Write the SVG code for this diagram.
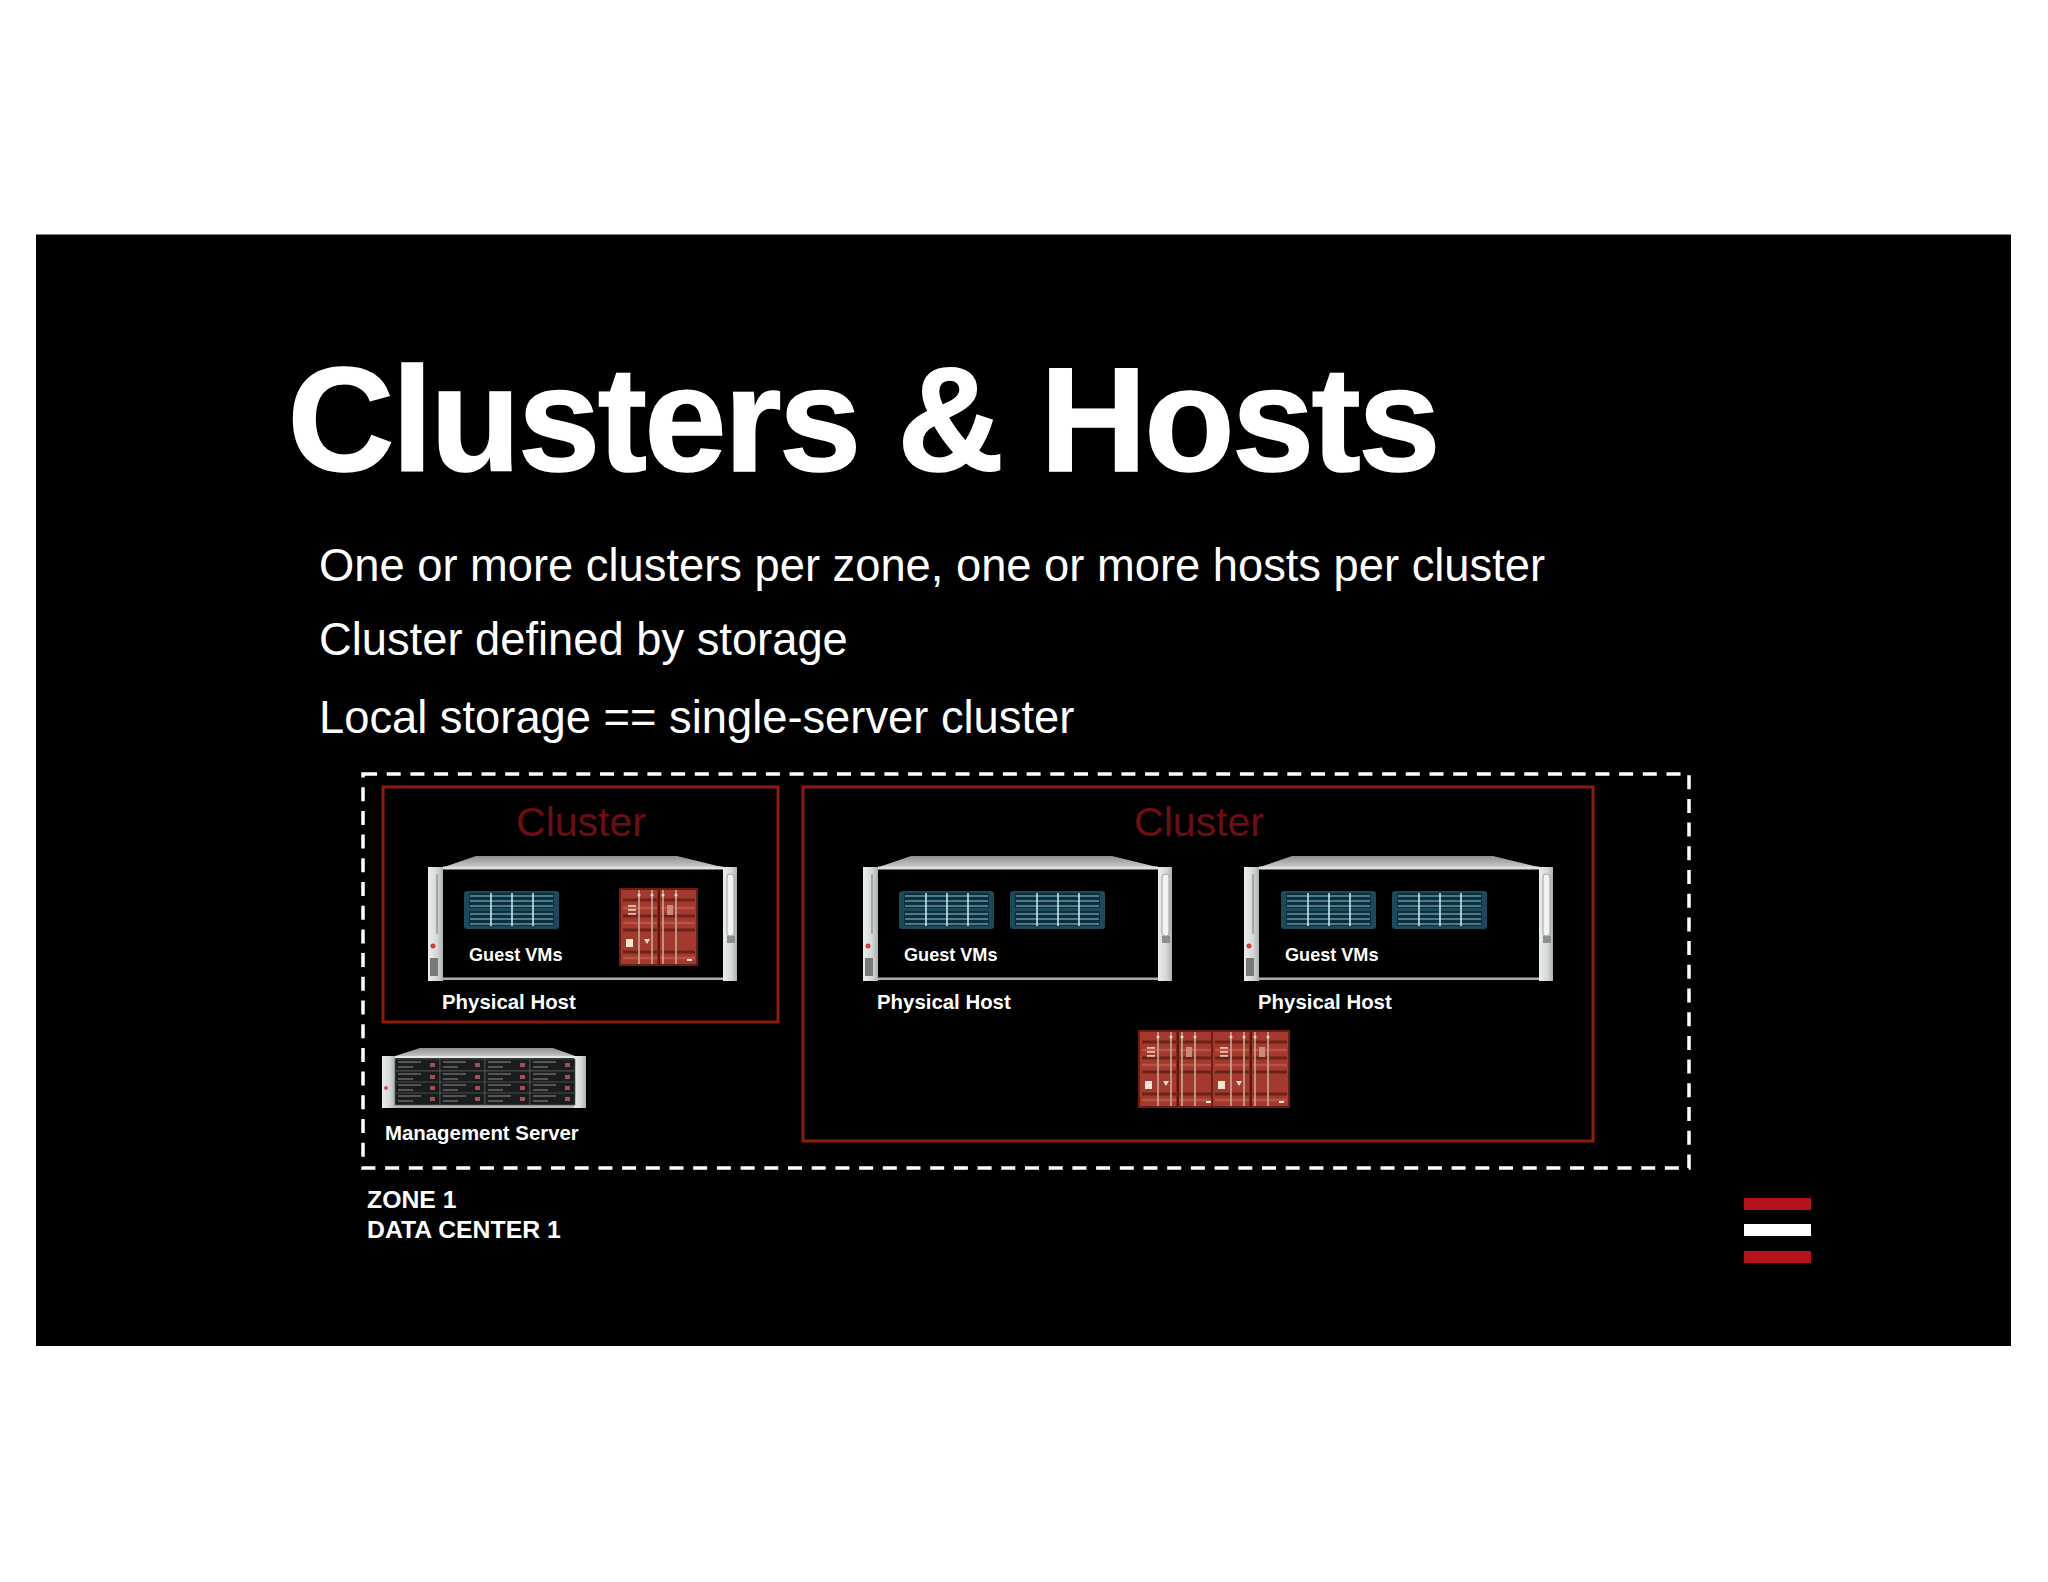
<svg xmlns="http://www.w3.org/2000/svg" xmlns:xlink="http://www.w3.org/1999/xlink" width="2048" height="1582" viewBox="0 0 2048 1582">
<style>
text{font-family:"Liberation Sans",Arial,sans-serif;fill:#fff}
.b{font-weight:700}
.body{font-size:45.300px}
.cl{font-size:41px;fill:#6f0d12;text-anchor:middle}
.gv{font-size:18.100px;font-weight:700}
.ph{font-size:20.400px;font-weight:700}
.zn{font-size:24.800px;font-weight:700}
.clb{fill:none;stroke:#8f1a0e;stroke-width:3}
</style>
<defs>
<linearGradient id="top" x1="0" x2="0" y1="0" y2="1"><stop offset="0" stop-color="#8e9090"/><stop offset="1" stop-color="#c9cbcb"/></linearGradient>
<linearGradient id="hdl" x1="0" x2="1" y1="0" y2="0"><stop offset="0" stop-color="#eceeee"/><stop offset=".6" stop-color="#d5d8d8"/><stop offset="1" stop-color="#aeb1b1"/></linearGradient>
<filter id="soft" x="-5%" y="-5%" width="110%" height="110%"><feGaussianBlur stdDeviation=".6"/></filter>
<symbol id="host" width="310" height="126" viewBox="0 0 310 126" overflow="visible">
<g filter="url(#soft)">
<polygon points="16,11 48,0 249,0 294,11" fill="url(#top)"/>
<rect x="15" y="10.500" width="280" height="3" fill="#dfe1e1"/>
<rect x="15" y="121.500" width="280" height="2.500" fill="#a9adab"/>
<rect x="0" y="11" width="15" height="114" fill="url(#hdl)"/>
<rect x="295" y="11" width="14" height="114" fill="url(#hdl)"/>
<rect x="8" y="18" width="2" height="60" fill="#a2a6a6"/>
<rect x="299" y="18" width="7" height="62" rx="3" fill="#f1f2f2" stroke="#9ea2a2"/>
<rect x="299" y="80" width="8" height="7" fill="#8b8f8f"/>
<circle cx="5" cy="90" r="2.500" fill="#d63b35"/>
<rect x="2" y="102" width="8" height="18" fill="#77797a"/>
</g>
</symbol>
<symbol id="blade" width="95" height="39" viewBox="0 0 95 39" overflow="visible">
<g filter="url(#soft)">
<rect x="0" y="1" width="95" height="38" rx="3" fill="#1b4a5c"/>
<rect x="5" y="3" width="85" height="15" fill="#0f2f3d"/>
<rect x="5" y="21" width="85" height="15" fill="#0f2f3d"/>
<path d="M6 6H89M6 11H89M6 16H89M6 24H89M6 29H89M6 34H89" stroke="#8fc6d2" stroke-width="1.100"/>
<path d="M27 3V36M48 3V36M69 3V36" stroke="#d4eef2" stroke-width="1.500"/>
</g>
</symbol>
<symbol id="cont" width="79" height="80" viewBox="0 0 79 80" overflow="visible">
<g filter="url(#soft)">
<rect x="1" y="2" width="77" height="76" fill="#a23a2e"/>
<path d="M1 2H78V78H1Z" stroke="#6d1f18" stroke-width="2" fill="none"/>
<path d="M4 13H38M42 13H76M4 29H38M42 29H76M4 43H38M42 43H76M4 65H38M42 65H76" stroke="#6e2018" stroke-width="3"/>
<path d="M4 21H38M42 21H76M4 36H38M42 36H76M4 71H76" stroke="#bb5244" stroke-width="2.500"/>
<rect x="38.500" y="3" width="2.500" height="74" fill="#60190f"/>
<path d="M20 3V77M33 3V77M44 3V77M57 3V77" stroke="#c9ab99" stroke-width="1.600"/>
<circle cx="20" cy="8" r="1.500" fill="#eadbd0"/><circle cx="33" cy="8" r="1.500" fill="#eadbd0"/><circle cx="44" cy="8" r="1.500" fill="#eadbd0"/><circle cx="57" cy="8" r="1.500" fill="#eadbd0"/>
<rect x="9" y="18" width="8" height="1.800" fill="#e0bdae"/><rect x="9" y="22" width="8" height="1.800" fill="#e0bdae"/><rect x="9" y="26" width="8" height="1.800" fill="#e0bdae"/>
<rect x="48" y="18" width="6" height="10" fill="#c98c7c"/>
<rect x="7" y="52" width="7" height="8" fill="#efe6d2"/>
<polygon points="25,52 31,52 28,57" fill="#f3ddd0"/>
<rect x="68" y="72" width="5" height="2" fill="#efe6d2"/>
</g>
</symbol>
<symbol id="bay" width="45" height="12" viewBox="0 0 45 12" overflow="visible">
<rect width="45" height="12" fill="#1b1c1d" stroke="#5c5f60" stroke-width=".7"/>
<path d="M3 3H26M3 8H18" stroke="#8c8e90" stroke-width="1"/>
<rect x="35" y="4" width="5" height="4" fill="#a05055"/>
</symbol>
</defs>
<rect width="2048" height="1582" fill="#fff"/>
<rect id="slide" x="36" y="234.500" width="1975" height="1111.500" fill="#000"/>
<g id="title"><text class="b" x="287.500" y="471" font-size="148" letter-spacing="-2.630" stroke="#fff" stroke-width="1.500">Clusters &amp; Hosts</text></g>
<g id="bullets">
<text class="body" x="319" y="581">One or more clusters per zone, one or more hosts per cluster</text>
<text class="body" x="319" y="655">Cluster defined by storage</text>
<text class="body" x="319" y="733">Local storage == single-server cluster</text>
</g>
<g id="connectors"></g>
<g id="zone">
<rect x="363" y="774" width="1326" height="394" fill="none" stroke="#fff" stroke-width="3.500" stroke-dasharray="14 9.700"/>
<text class="zn" x="367" y="1208">ZONE 1</text>
<text class="zn" x="367" y="1238">DATA CENTER 1</text>
</g>
<g id="cluster-1">
<rect class="clb" x="383" y="787" width="395" height="235"/>
<text class="cl" x="581" y="836">Cluster</text>
</g>
<g id="host-1">
<use xlink:href="#host" href="#host" x="428" y="856"/>
<use xlink:href="#blade" href="#blade" x="464" y="890"/>
<use xlink:href="#cont" href="#cont" x="619" y="887"/>
<text class="gv" x="469" y="961">Guest VMs</text>
<text class="ph" x="442" y="1009">Physical Host</text>
</g>
<g id="management-server">
<g filter="url(#soft)">
<polygon points="392,1057 420,1048 553,1048 578,1057" fill="url(#top)"/>
<rect x="382" y="1056" width="13" height="52" fill="url(#hdl)"/>
<rect x="574" y="1056" width="12" height="52" fill="url(#hdl)"/>
<rect x="395" y="1056" width="179" height="2" fill="#e6e8e8"/>
<rect x="395" y="1058" width="179" height="48" fill="#26282a"/>
<rect x="395" y="1105" width="179" height="3" fill="#b5b8b8"/>
<circle cx="386" cy="1088" r="2" fill="#d05555"/>
</g>
<use xlink:href="#bay" href="#bay" x="395" y="1059"/><use xlink:href="#bay" href="#bay" x="440" y="1059"/><use xlink:href="#bay" href="#bay" x="485" y="1059"/><use xlink:href="#bay" href="#bay" x="530" y="1059"/>
<use xlink:href="#bay" href="#bay" x="395" y="1071"/><use xlink:href="#bay" href="#bay" x="440" y="1071"/><use xlink:href="#bay" href="#bay" x="485" y="1071"/><use xlink:href="#bay" href="#bay" x="530" y="1071"/>
<use xlink:href="#bay" href="#bay" x="395" y="1082"/><use xlink:href="#bay" href="#bay" x="440" y="1082"/><use xlink:href="#bay" href="#bay" x="485" y="1082"/><use xlink:href="#bay" href="#bay" x="530" y="1082"/>
<use xlink:href="#bay" href="#bay" x="395" y="1093"/><use xlink:href="#bay" href="#bay" x="440" y="1093"/><use xlink:href="#bay" href="#bay" x="485" y="1093"/><use xlink:href="#bay" href="#bay" x="530" y="1093"/>
<text class="ph" x="385" y="1140">Management Server</text>
</g>
<g id="cluster-2">
<rect class="clb" x="803" y="787" width="790" height="354"/>
<text class="cl" x="1199" y="836">Cluster</text>
</g>
<g id="host-2">
<use xlink:href="#host" href="#host" x="863" y="856"/>
<use xlink:href="#blade" href="#blade" x="899" y="890"/>
<use xlink:href="#blade" href="#blade" x="1010" y="890"/>
<text class="gv" x="904" y="961">Guest VMs</text>
<text class="ph" x="877" y="1009">Physical Host</text>
</g>
<g id="host-3">
<use xlink:href="#host" href="#host" x="1244" y="856"/>
<use xlink:href="#blade" href="#blade" x="1281" y="890"/>
<use xlink:href="#blade" href="#blade" x="1392" y="890"/>
<text class="gv" x="1285" y="961">Guest VMs</text>
<text class="ph" x="1258" y="1009">Physical Host</text>
</g>
<g id="containers">
<use xlink:href="#cont" href="#cont" x="1138" y="1029"/>
<use xlink:href="#cont" href="#cont" x="1211" y="1029"/>
</g>
<g id="logo">
<rect x="1744" y="1198" width="67" height="12" fill="#b5121b"/>
<rect x="1744" y="1224" width="67" height="12" fill="#fff"/>
<rect x="1744" y="1251" width="67" height="12" fill="#b5121b"/>
</g>
</svg>
